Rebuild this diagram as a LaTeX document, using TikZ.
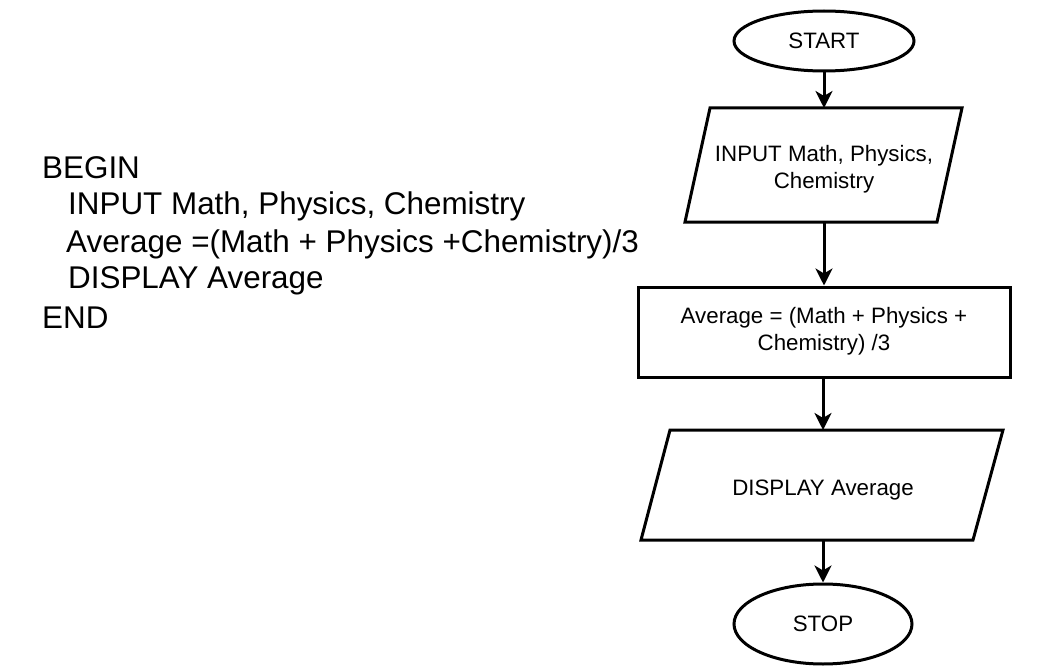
\documentclass[tikz,border=0pt]{standalone}
\usepackage{fontspec}
\setmainfont{Liberation Sans}
\usetikzlibrary{arrows.meta,shapes.geometric}
\tikzset{
  shp/.style={draw=black,line width=3pt,line join=miter},
  term/.style={shp,ellipse,inner sep=0pt},
  proc/.style={shp,rectangle,inner sep=0pt},
  lbl/.style={font=\fontsize{22.3}{27}\selectfont,align=center,inner sep=0pt},
  code/.style={font=\fontsize{31.4}{35}\selectfont,anchor=west,inner sep=0pt},
  flow/.style={line width=3pt,-{Stealth[length=17pt,width=17pt,inset=5pt]}},
}
\begin{document}
\begin{tikzpicture}[x=1pt,y=-1pt]
\useasboundingbox (0,0) rectangle (1037,669);
% pseudocode
\node[code] (l1) at (42,168) {BEGIN};
\node[code] (l2) at (68,206) {INPUT Math, Physics, Chemistry};
\node[code] (l3) at (66,244) {Average =(Math + Physics +Chemistry)/3};
\node[code] (l4) at (68,281) {DISPLAY Average};
\node[code] (l5) at (42,318) {END};
% flowchart
\node[term,minimum width=180pt,minimum height=60pt,lbl] (start) at (824,41) {\raisebox{-2pt}{START}};
\draw[shp] (710,108) -- (962,108) -- (937,222) -- (685,222) -- cycle;
\coordinate (inT) at (824,108);
\coordinate (inB) at (824,222);
\node[lbl] (input) at (824,169) {INPUT Math, Physics,\\Chemistry};
\node[proc,minimum width=372pt,minimum height=90pt,lbl] (avg) at (824,332) {\raisebox{-3pt}{\begin{tabular}{@{}c@{}}Average = (Math + Physics +\\Chemistry) /3\end{tabular}}};
\draw[shp] (670,430) -- (1003,430) -- (973,540) -- (641,540) -- cycle;
\coordinate (dT) at (823,430);
\coordinate (dB) at (823,540);
\node[lbl] (disp) at (823,490) {DISPLAY Average};
\node[term,minimum width=178pt,minimum height=80pt,lbl] (stop) at (823,624) {\raisebox{-2pt}{STOP}};
\draw[flow] (start.south) -- (inT);
\draw[flow] (inB) -- (avg.north);
\draw[flow] (avg.south -| dT) -- (dT);
\draw[flow] (dB) -- (stop.north);
\end{tikzpicture}
\end{document}
